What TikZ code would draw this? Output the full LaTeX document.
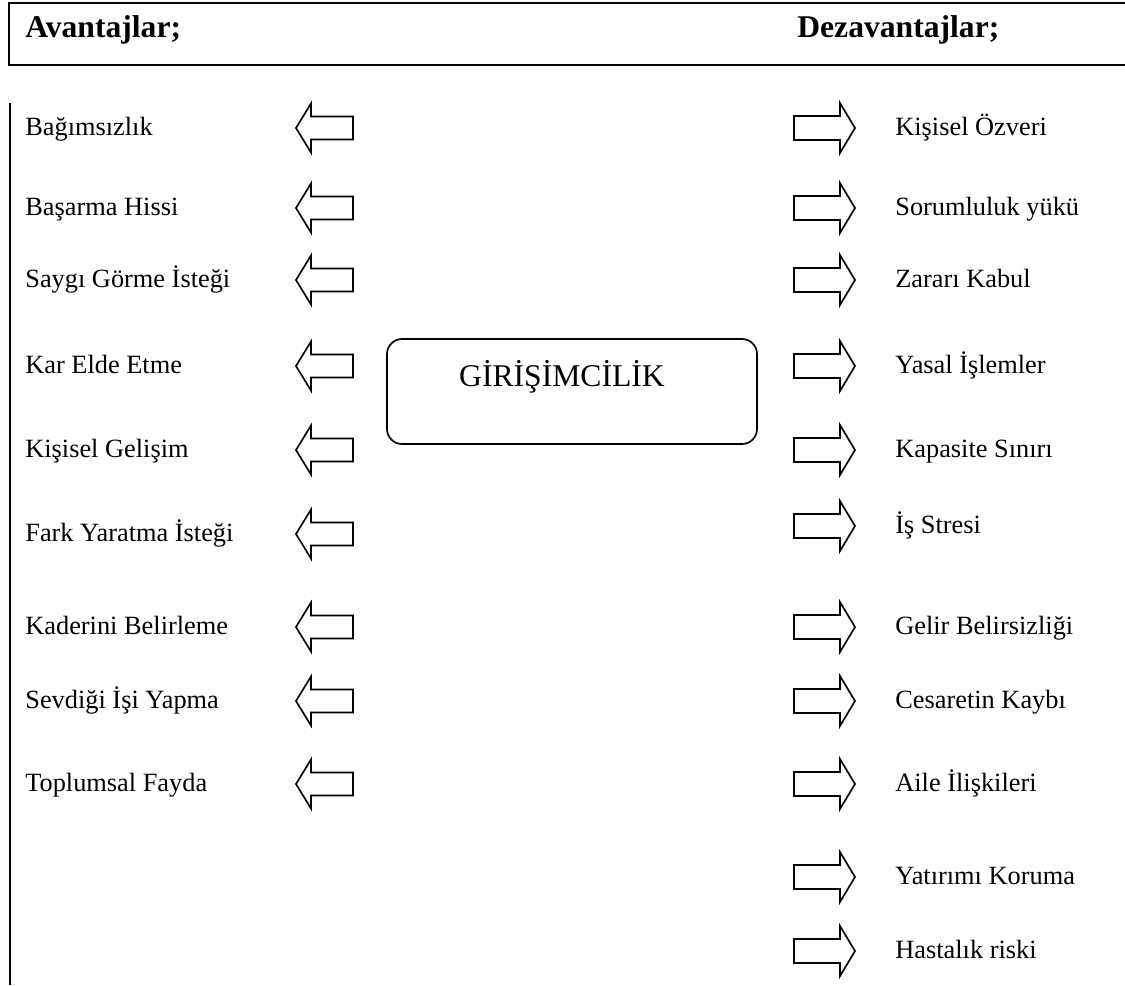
\documentclass[tikz,border=0pt]{standalone}
\usepackage{fontspec}
\setmainfont{Liberation Serif}
\tikzset{
  lbl/.style={font=\fontsize{15}{18}\selectfont, inner sep=0pt, anchor=base west},
  head/.style={font=\fontsize{18}{21}\selectfont\bfseries, inner sep=0pt, anchor=base west},
  blockarrow/.style={line width=0.95pt, line join=miter},
  rule/.style={line width=1.15pt}
}
\begin{document}
\begin{tikzpicture}[x=0.02cm,y=-0.02cm]
  \useasboundingbox (0,0) rectangle (1125,985);
  % header
  \draw[rule] (1125,3) -- (9,3) -- (9,65) -- (1125,65);
  \node[head] (avt) at (25,37) {Avantajlar;};
  \node[head] (dezavt) at (797,37) {Dezavantajlar;};
  \draw[rule] (10,103) -- (10,985);
  % center
  \node[draw, line width=0.95pt, rounded corners=0.3cm, minimum width=370*0.02cm, minimum height=105*0.02cm] (girbox) at (572,391.5) {};
  \node[font=\fontsize{18}{21}\selectfont, inner sep=0pt, anchor=base] (girtxt) at (562,386) {GİRİŞİMCİLİK};
  % avantajlar
  \foreach \y/\t [count=\i] in {128/Bağımsızlık, 208/Başarma Hissi, 280/Saygı Görme İsteği,
      366/Kar Elde Etme, 450/Kişisel Gelişim, 534/Fark Yaratma İsteği,
      627/Kaderini Belirleme, 701/Sevdiği İşi Yapma, 784/Toplumsal Fayda} {
    \node[lbl] (av\i) at (25,\y+7) {\t};
    \draw[blockarrow] (296,\y) -- (311,\y-24.5) -- (311,\y-11.5) -- (353,\y-11.5)
      -- (353,\y+11.5) -- (311,\y+11.5) -- (311,\y+24.5) -- cycle;
  }
  % dezavantajlar
  \foreach \y/\t [count=\i] in {128/Kişisel Özveri, 208/Sorumluluk yükü, 280/Zararı Kabul,
      366/Yasal İşlemler, 450/Kapasite Sınırı, 526/İş Stresi,
      627/Gelir Belirsizliği, 701/Cesaretin Kaybı, 784/Aile İlişkileri,
      877/Yatırımı Koruma, 951/Hastalık riski} {
    \node[lbl] (dz\i) at (895,\y+7) {\t};
    \draw[blockarrow] (855,\y) -- (840,\y-25) -- (840,\y-12) -- (794,\y-12)
      -- (794,\y+12) -- (840,\y+12) -- (840,\y+25) -- cycle;
  }
\end{tikzpicture}
\end{document}
